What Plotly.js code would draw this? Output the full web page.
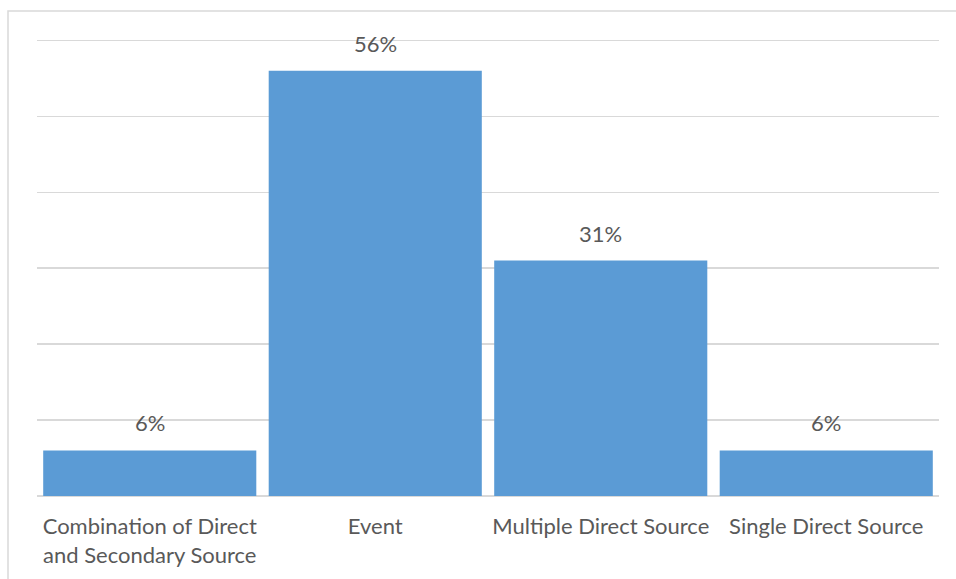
<!DOCTYPE html>
<html>
<head>
<meta charset="utf-8">
<script src="https://cdn.plot.ly/plotly-3.0.1.min.js"></script>
<style>
  html, body { margin: 0; padding: 0; background: #ffffff; }
  #chart { width: 956px; height: 579px; }
</style>
</head>
<body>
<div id="chart"></div>
<script>
// Share of records by source type (percent)
const categories = [
  "Combination of Direct<br>and Secondary Source",
  "Event",
  "Multiple Direct Source",
  "Single Direct Source"
];
const shares = [6, 56, 31, 6];
const valueLabels = ["6%", "56%", "31%", "6%"];

const W = 956, H = 579;
const margin = { l: 37, r: 17, t: 38, b: 83, pad: 0 };
const plotW = W - margin.l - margin.r;
const plotH = H - margin.t - margin.b;
// convert page pixels to paper coordinates for the outer frame
const px = x => (x - margin.l) / plotW;
const py = y => (H - margin.b - y) / plotH;

const textColor = "#595959";
const fontFamily = "Lato, 'Open Sans', sans-serif";

const trace = {
  type: "bar",
  x: categories,
  y: shares,
  marker: { color: "#5B9BD5", line: { width: 0 } },
  hoverinfo: "skip"
};

const annotations = categories.map((c, i) => ({
  x: c,
  y: shares[i],
  xref: "x",
  yref: "y",
  text: valueLabels[i],
  showarrow: false,
  yanchor: "bottom",
  yshift: 12,
  font: { family: fontFamily, size: 22, color: textColor }
}));

const layout = {
  width: W,
  height: H,
  margin: margin,
  paper_bgcolor: "#ffffff",
  plot_bgcolor: "#ffffff",
  showlegend: false,
  bargap: 0.055,
  font: { family: fontFamily, size: 22, color: textColor },
  xaxis: {
    type: "category",
    showgrid: false,
    showline: false,
    zeroline: false,
    ticks: "",
    ticklabelstandoff: 15,
    tickfont: { family: fontFamily, size: 22, color: textColor },
    fixedrange: true
  },
  yaxis: {
    range: [0, 60.3],
    tick0: 0,
    dtick: 10,
    showticklabels: false,
    showgrid: true,
    gridcolor: "#D9D9D9",
    gridwidth: 1.3,
    zeroline: true,
    zerolinecolor: "#D9D9D9",
    zerolinewidth: 1.3,
    showline: false,
    ticks: "",
    fixedrange: true
  },
  annotations: annotations,
  shapes: [
    {
      type: "path",
      xref: "paper",
      yref: "paper",
      path: `M ${px(8)} ${py(H + 5)} L ${px(8)} ${py(11)} L ${px(W + 5)} ${py(11)}`,
      line: { color: "#D9D9D9", width: 1.5 },
      layer: "below"
    }
  ]
};

Plotly.newPlot("chart", [trace], layout, { displayModeBar: false, staticPlot: true });
</script>
</body>
</html>
